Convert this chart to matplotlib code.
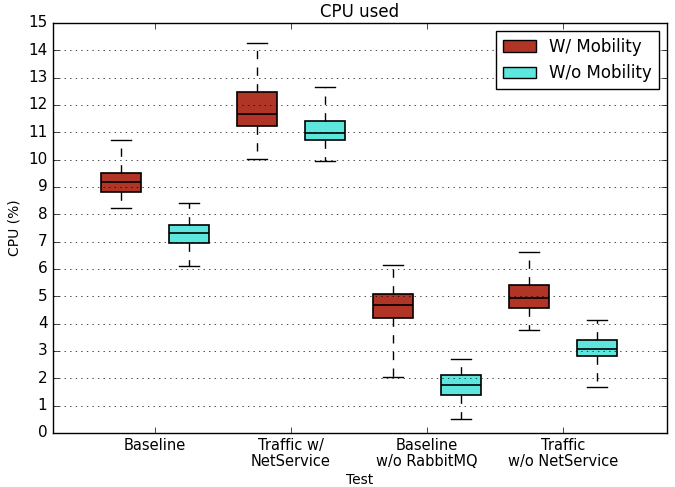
import matplotlib
matplotlib.use('Agg')
import matplotlib.pyplot as plt
import matplotlib.patches as mpatches

plt.style.use('classic')

tests = ['Baseline', 'Traffic w/\nNetService', 'Baseline\nw/o RabbitMQ', 'Traffic\nw/o NetService']
series = ['W/ Mobility', 'W/o Mobility']
colors = ['#b03526', '#5de6dd']

# five-number summaries per test: (whislo, q1, med, q3, whishi)
with_mob = [
    (8.23, 8.82, 9.18, 9.51, 10.72),
    (10.03, 11.23, 11.67, 12.48, 14.27),
    (2.05, 4.21, 4.68, 5.09, 6.15),
    (3.77, 4.57, 4.94, 5.42, 6.62),
]
without_mob = [
    (6.11, 6.95, 7.32, 7.61, 8.42),
    (9.95, 10.72, 10.98, 11.42, 12.66),
    (0.51, 1.39, 1.76, 2.12, 2.71),
    (1.68, 2.82, 3.07, 3.40, 4.13),
]

fig = plt.figure(figsize=(6.75, 4.87), dpi=100, facecolor='white')
ax = fig.add_axes([0.0785, 0.111, 0.9096, 0.842])

def stats(rows):
    return [dict(whislo=a, q1=b, med=c, q3=d, whishi=e, fliers=[]) for a, b, c, d, e in rows]

for k, (rows, col) in enumerate(zip([with_mob, without_mob], colors)):
    pos = [i + 1 + (k - 0.5) * 0.5 for i in range(len(rows))]
    bp = ax.bxp(stats(rows), positions=pos, widths=0.3, patch_artist=True,
                showfliers=False, manage_ticks=False)
    for b in bp['boxes']:
        b.set_facecolor(col)
        b.set_edgecolor('black')
        b.set_linewidth(1.2)
    for w in bp['whiskers']:
        w.set_color('black')
        w.set_linestyle((0, (6, 6)))
    for c in bp['caps']:
        c.set_color('black')
    for m in bp['medians']:
        m.set_color('black')
        m.set_linewidth(1.2)

ax.set_xlim(0.25, 4.765)
ax.set_ylim(0, 15)
ax.set_yticks(range(0, 16))
ax.set_xticks(range(1, len(tests) + 1))
ax.set_xticklabels(tests, fontsize=10.5, linespacing=1.05)
ax.tick_params(axis='y', labelsize=11)
ax.yaxis.grid(True, linestyle=':', color='black')
ax.xaxis.grid(False)
ax.set_title('CPU used', fontsize=12, pad=4)
ax.set_ylabel('CPU (%)', fontsize=10)
ax.set_xlabel('Test', fontsize=10, labelpad=2.5)

handles = [mpatches.Patch(facecolor=c, edgecolor='black', label=s) for s, c in zip(series, colors)]
ax.legend(handles=handles, loc='upper right', fontsize=12)

fig.savefig('out.png', dpi=100, facecolor='white')
